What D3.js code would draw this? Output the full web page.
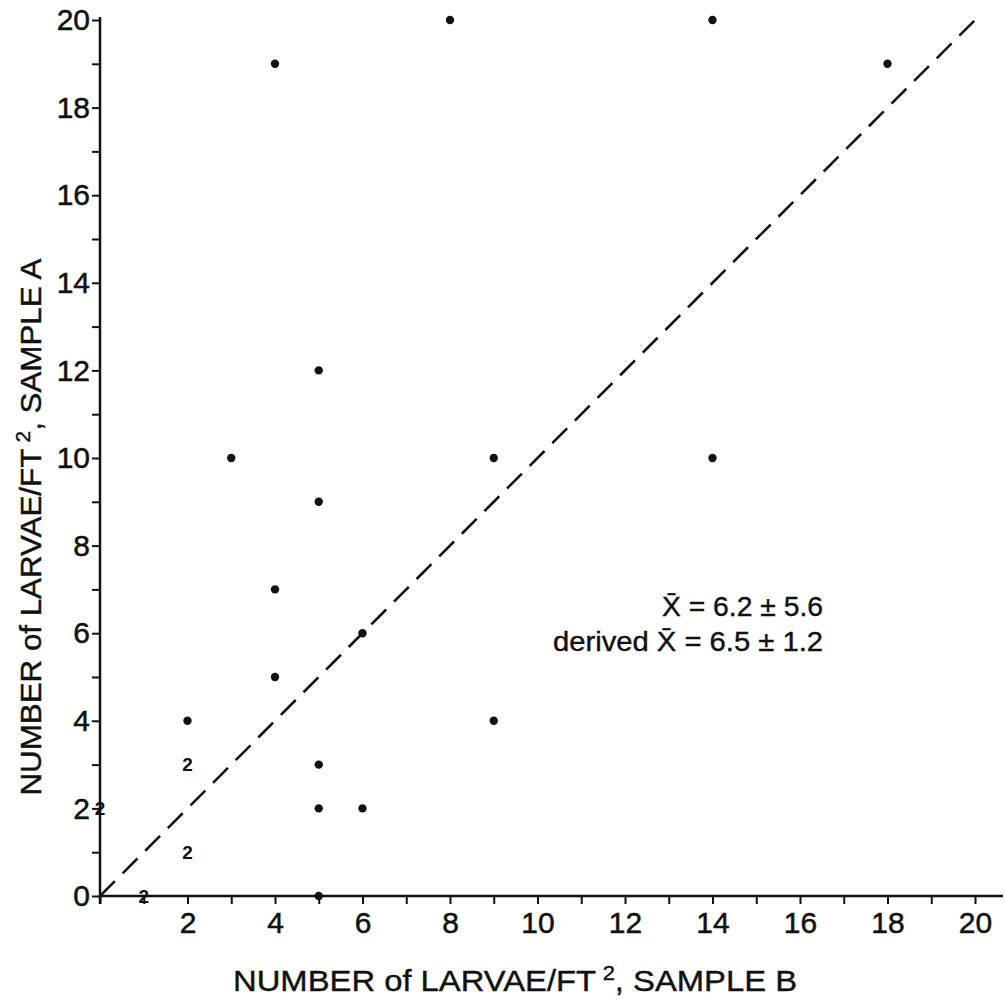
<!DOCTYPE html>
<html>
<head>
<meta charset="utf-8">
<script src="https://cdn.jsdelivr.net/npm/d3@7/dist/d3.min.js"></script>
<style>
  html, body { margin: 0; padding: 0; background: #fff; }
  svg { display: block; }
  text { font-family: "Liberation Sans", Arial, sans-serif; fill: #111; }
</style>
</head>
<body>
<svg id="chart" width="1005" height="1002"></svg>
<script>
// ---- data ----
const sampleB = [4, 8, 14, 18, 5, 3, 9, 14, 5, 4, 6, 4, 2, 9, 5, 5, 6, 5];
const sampleA = [19, 20, 20, 19, 12, 10, 10, 10, 9, 7, 6, 5, 4, 4, 3, 2, 2, 0];
// locations where two observations coincide (plotted as the numeral "2")
const multiB = [2, 2, 0, 1];
const multiA = [3, 1, 2, 0];
const multiCount = ["2", "2", "2", "2"];
const xTickValues = [2, 4, 6, 8, 10, 12, 14, 16, 18, 20];
const yTickValues = [0, 2, 4, 6, 8, 10, 12, 14, 16, 18, 20];
const statLines = ["X\u0304 = 6.2 \u00B1 5.6", "derived X\u0304 = 6.5 \u00B1 1.2"];
const statWidths = [161, 270];
const xTitleParts = ["NUMBER of LARVAE/FT", "2", ", SAMPLE B"];
const yTitleParts = ["NUMBER of LARVAE/FT", "2", ", SAMPLE A"];

// ---- layout ----
const svg = d3.select("#chart");
const x = d3.scaleLinear().domain([0, 20]).range([100, 975]);
const y = d3.scaleLinear().domain([0, 20]).range([896, 20]);

const ink = "#111";

function heavy(sel, w) {
  sel.attr("stroke", ink).attr("stroke-width", w).attr("paint-order", "stroke");
}

// x axis
const xAxis = d3.axisBottom(x)
  .tickValues(d3.range(0, 21))
  .tickSize(8)
  .tickPadding(8)
  .tickFormat(d => xTickValues.includes(d) ? d : "");
const gx = svg.append("g").attr("transform", `translate(0,${y(0)})`).call(xAxis);
gx.select(".domain").remove();
gx.selectAll(".tick line").attr("stroke", ink).attr("stroke-width", 2);
gx.selectAll(".tick text").attr("font-size", 30).attr("fill", ink)
  .attr("font-family", "Liberation Sans, Arial, sans-serif").call(heavy, 0.5);
svg.append("line")
  .attr("x1", x(0)).attr("x2", 1003)
  .attr("y1", y(0)).attr("y2", y(0))
  .attr("stroke", ink).attr("stroke-width", 2.5);

// y axis
const yAxis = d3.axisLeft(y)
  .tickValues(d3.range(0, 21))
  .tickSize(8)
  .tickPadding(2)
  .tickFormat(d => yTickValues.includes(d) ? d : "");
const gy = svg.append("g").attr("transform", `translate(${x(0)},0)`).call(yAxis);
gy.select(".domain").remove();
gy.selectAll(".tick line").attr("stroke", ink).attr("stroke-width", 2);
gy.selectAll(".tick text").attr("font-size", 30).attr("fill", ink)
  .attr("font-family", "Liberation Sans, Arial, sans-serif").call(heavy, 0.5);
svg.append("line")
  .attr("x1", x(0)).attr("x2", x(0))
  .attr("y1", y(0) + 8).attr("y2", y(20) - 3)
  .attr("stroke", ink).attr("stroke-width", 2.5);

// 1:1 dashed line
svg.append("line")
  .attr("x1", x(0)).attr("y1", y(0))
  .attr("x2", x(20)).attr("y2", y(20))
  .attr("stroke", ink).attr("stroke-width", 2.6)
  .attr("stroke-dasharray", "21 11");

// points
svg.append("g").selectAll("circle")
  .data(sampleB.map((b, i) => ({ b, a: sampleA[i] })))
  .join("circle")
  .attr("cx", d => x(d.b))
  .attr("cy", d => y(d.a))
  .attr("r", 4.2)
  .attr("fill", ink);

// coincident points shown as numerals
svg.append("g").selectAll("text")
  .data(multiB.map((b, i) => ({ b, a: multiA[i], t: multiCount[i] })))
  .join("text")
  .attr("x", d => x(d.b))
  .attr("y", d => y(d.a))
  .attr("dy", "0.36em")
  .attr("text-anchor", "middle")
  .attr("font-size", 19)
  .attr("font-weight", "bold")
  .text(d => d.t);

// statistics annotation
svg.append("g").selectAll("text")
  .data(statLines)
  .join("text")
  .attr("x", 823)
  .attr("y", (d, i) => 616 + i * 35)
  .attr("text-anchor", "end")
  .attr("font-size", 28)
  .attr("textLength", (d, i) => statWidths[i])
  .attr("lengthAdjust", "spacingAndGlyphs")
  .call(heavy, 0.4)
  .text(d => d);

// axis titles
function title(g, parts) {
  g.append("tspan").text(parts[0]);
  g.append("tspan").attr("dx", 6).attr("dy", -11).attr("font-size", 20).text(parts[1]);
  g.append("tspan").attr("dy", 11).text(parts[2]);
}
const xt = svg.append("text")
  .attr("x", 515).attr("y", 991)
  .attr("text-anchor", "middle")
  .attr("font-size", 30)
  .attr("textLength", 564)
  .attr("lengthAdjust", "spacingAndGlyphs")
  .call(heavy, 0.4);
title(xt, xTitleParts);

const yt = svg.append("text")
  .attr("transform", "translate(41,527) rotate(-90)")
  .attr("text-anchor", "middle")
  .attr("font-size", 30)
  .attr("textLength", 537)
  .attr("lengthAdjust", "spacingAndGlyphs")
  .call(heavy, 0.4);
title(yt, yTitleParts);
</script>
</body>
</html>
